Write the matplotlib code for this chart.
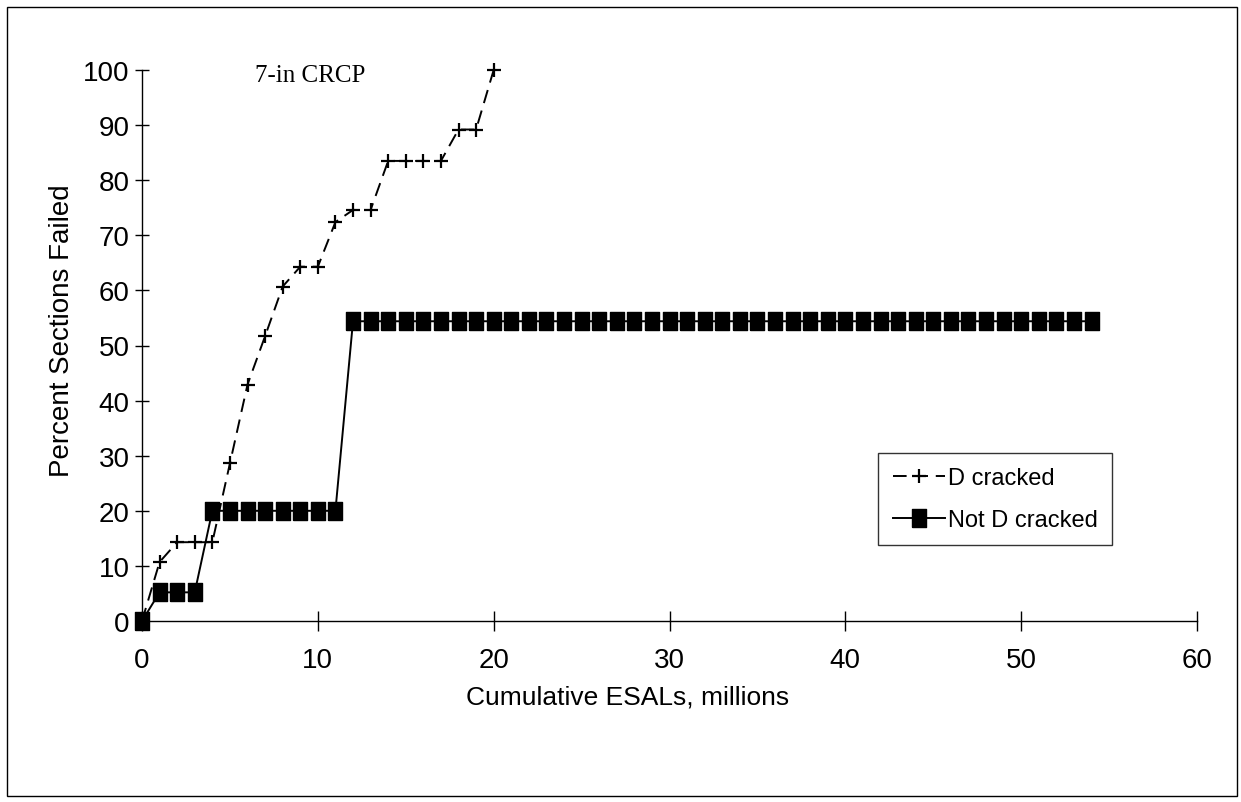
import matplotlib
matplotlib.use("Agg")
import matplotlib.pyplot as plt
from matplotlib.patches import Rectangle

# Data
d_x = list(range(0, 21))
d_y = [0, 10.7, 14.3, 14.3, 14.3, 28.6, 42.9, 51.7, 60.7, 64.3, 64.3,
       72.4, 74.6, 74.6, 83.5, 83.5, 83.5, 83.5, 89.2, 89.2, 100]

nd_x = list(range(0, 55))
nd_y = [0] + [5.2] * 3 + [20] * 8 + [54.4] * 43

x_ticks = [0, 10, 20, 30, 40, 50, 60]
y_ticks = [0, 10, 20, 30, 40, 50, 60, 70, 80, 90, 100]

W, H = 1241, 803
fig = plt.figure(figsize=(W / 100, H / 100), dpi=100)
ax = fig.add_axes([142 / W, 1 - 622 / H, (1197 - 142) / W, (622 - 71) / H])

rect_marker = [(-0.4, -0.5), (0.4, -0.5), (0.4, 0.5), (-0.4, 0.5), (-0.4, -0.5)]

ax.plot(d_x, d_y, color="black", lw=1.4, ls=(0, (7, 4)), marker="+",
        markersize=10, markeredgewidth=1.6, label="D cracked", clip_on=False)
ax.plot(nd_x, nd_y, color="black", lw=1.4, ls="-", marker=rect_marker,
        markersize=13, markerfacecolor="black", markeredgecolor="black",
        label="Not D cracked", clip_on=False)

ax.set_xlim(0, 60)
ax.set_ylim(0, 100)
ax.set_xticks(x_ticks)
ax.set_yticks(y_ticks)
ax.set_xticklabels([str(v) for v in x_ticks])
ax.set_yticklabels([str(v) for v in y_ticks])

for s in ["top", "right"]:
    ax.spines[s].set_visible(False)
for s in ["left", "bottom"]:
    ax.spines[s].set_linewidth(1.0)
    ax.spines[s].set_color("black")

ax.tick_params(axis="x", direction="inout", length=15, width=1.0,
               labelsize=20, pad=11)
ax.tick_params(axis="y", direction="inout", length=10, width=1.0,
               labelsize=20, pad=4)
for lab in ax.get_xticklabels() + ax.get_yticklabels():
    lab.set_family("Liberation Sans")

ax.set_ylabel("Percent Sections Failed", fontsize=20,
              family="Liberation Sans")
ax.yaxis.set_label_coords((62 - 142) / 1055, (622 - 331) / 551)
ax.set_xlabel("Cumulative ESALs, millions", fontsize=19,
              family="Liberation Sans")
ax.xaxis.set_label_coords((628 - 142) / 1055, -(698 - 622) / 551)
ax.xaxis.label.set_va("center")
ax.yaxis.label.set_va("center")

ax.text((310 - 142) / 1055, (622 - 76) / 551, "7-in CRCP",
        transform=ax.transAxes, fontsize=18,
        family="Liberation Serif", ha="center", va="center")

leg = ax.legend(loc="upper left", bbox_to_anchor=(0.698, 0.305),
                frameon=True, fancybox=False, shadow=False,
                prop={"family": "Liberation Sans", "size": 17},
                handlelength=2.2, handletextpad=0.15, borderpad=0.6,
                labelspacing=0.85, borderaxespad=0)
leg.get_frame().set_edgecolor("black")
leg.get_frame().set_linewidth(1.0)

fig.patches.append(Rectangle((7 / W, 1 - 797 / H), (1237 - 7) / W,
                             (797 - 8) / H, transform=fig.transFigure,
                             fill=False, edgecolor="black", lw=1.0))

fig.savefig("out.png", dpi=100)
